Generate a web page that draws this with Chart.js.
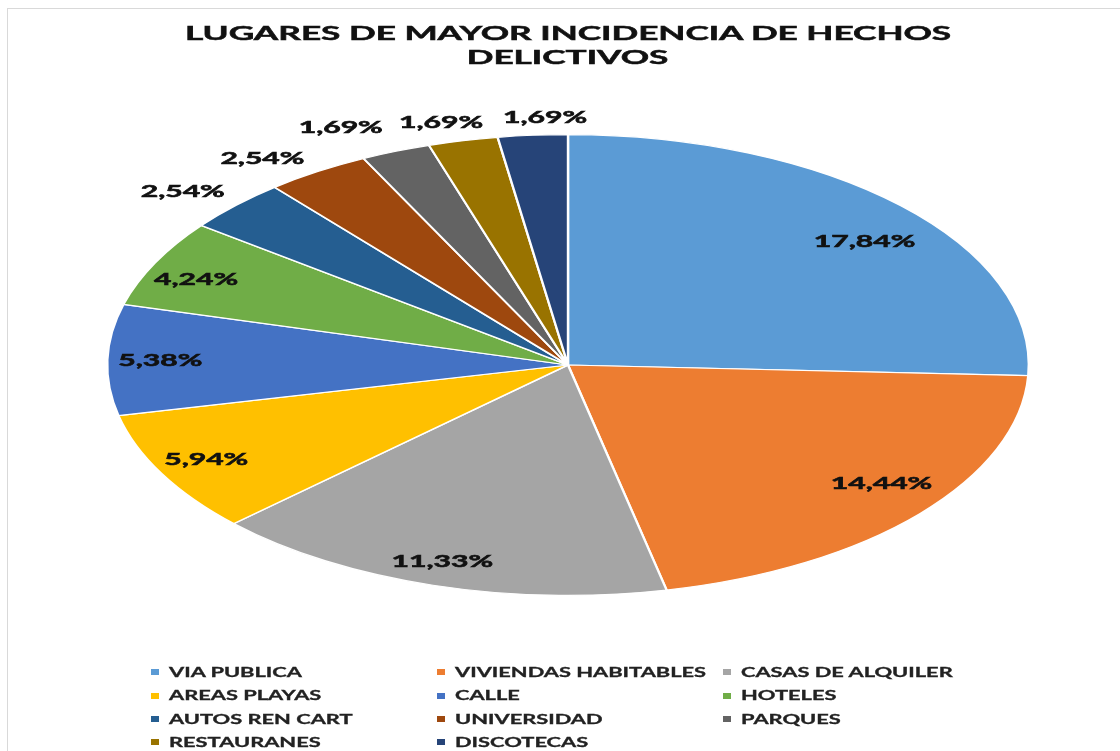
<!DOCTYPE html>
<html>
<head>
    <title>Lugares de mayor incidencia</title>
    <script src="https://cdn.jsdelivr.net/npm/chart.js"></script>
    <style>
        body { margin: 0; background: #fff; font-family: Lato, sans-serif; }
        #wrap { position: relative; width: 1120px; height: 751px; overflow: hidden; }
        #frame { position: absolute; left: 7px; top: 8px; right: -2px; bottom: -2px;
                 border-top: 1px solid #d9d9d9; border-left: 1px solid #d9d9d9; }
        canvas { position: absolute; left: 0; top: 0; }
        .title { position: absolute; left: 0; width: 1136px; text-align: center;
                 font: 700 19px Lato, sans-serif; line-height: 24px; color: #111;
                 -webkit-text-stroke: 0.5px #111; }
        .title span { display: inline-block; transform: scaleX(1.85); }
        #legend { position: absolute; left: 151px; top: 661px; display: grid;
                  grid-template-columns: repeat(3, 286px); grid-auto-rows: 23.4px; }
        .item { font: 700 13px Lato, sans-serif; color: #222; white-space: nowrap;
                line-height: 23.4px; -webkit-text-stroke: 0.3px #222; }
        .box { display: inline-block; width: 8px; height: 6px; vertical-align: middle;
               margin-top: -3px; }
        .lbl { display: inline-block; transform: scaleX(1.68); transform-origin: left center;
               margin-left: 10px; }
    </style>
</head>
<body>
<div id="wrap">
    <div id="frame"></div>
    <canvas id="pieChart" width="1120" height="751"></canvas>
    <div class="title" style="top:21px"><span>LUGARES DE MAYOR INCIDENCIA DE HECHOS</span></div>
    <div class="title" style="top:45px"><span>DELICTIVOS</span></div>
    <div id="legend"></div>
</div>

<script>
    var places = ["VIA PUBLICA", "VIVIENDAS HABITABLES", "CASAS DE ALQUILER", "AREAS PLAYAS",
                  "CALLE", "HOTELES", "AUTOS REN CART", "UNIVERSIDAD", "PARQUES",
                  "RESTAURANES", "DISCOTECAS"];
    var percents = [17.84, 14.44, 11.33, 5.94, 5.38, 4.24, 2.54, 2.54, 1.69, 1.69, 1.69];
    var colors = ["#5B9BD5", "#ED7D31", "#A5A5A5", "#FFC000", "#4472C4", "#70AD47",
                  "#255E91", "#9E480E", "#636363", "#997300", "#264478"];

    // where each label sits, as a fraction of the radius (x and y separately)
    var labelFx = [0.89, 0.89, 0.93, 0.89, 0.885, 0.90, 1.16, 1.22, 1.32, 1.21, 0.65];
    var labelFy = [0.78, 0.80, 0.89, 0.87, 0.85, 0.84, 1.09, 1.07, 1.11, 1.08, 1.08];

    var STRETCH = 2;      // the pie is drawn as a wide ellipse
    var TEXT_SCALE = 1.72; // labels are wide too

    // squash the pie horizontally around its centre
    var stretchPlugin = {
        id: "stretch",
        beforeDatasetsDraw: function (chart) {
            var arc = chart.getDatasetMeta(0).data[0];
            var ctx = chart.ctx;
            ctx.save();
            ctx.translate(arc.x, 0);
            ctx.scale(STRETCH, 1);
            ctx.translate(-arc.x, 0);
        },
        afterDatasetsDraw: function (chart) {
            chart.ctx.restore();
        }
    };

    var labelPlugin = {
        id: "pctLabels",
        afterDatasetsDraw: function (chart) {
            var ctx = chart.ctx;
            chart.getDatasetMeta(0).data.forEach(function (arc, i) {
                var mid = (arc.startAngle + arc.endAngle) / 2;
                var x = arc.x + Math.cos(mid) * arc.outerRadius * STRETCH * labelFx[i];
                var y = arc.y + Math.sin(mid) * arc.outerRadius * labelFy[i];
                var txt = percents[i].toFixed(2).replace(".", ",") + "%";
                ctx.save();
                ctx.translate(x, y);
                ctx.scale(TEXT_SCALE, 1);
                ctx.font = "700 17.5px Lato, sans-serif";
                ctx.fillStyle = "#111";
                ctx.strokeStyle = "#111";
                ctx.lineWidth = 0.6;
                ctx.textAlign = "center";
                ctx.textBaseline = "middle";
                ctx.fillText(txt, 0, 0);
                ctx.strokeText(txt, 0, 0);
                ctx.restore();
            });
        }
    };

    var ctx = document.getElementById("pieChart").getContext("2d");
    var chart = new Chart(ctx, {
        type: "pie",
        data: {
            labels: places,
            datasets: [{
                data: percents,
                backgroundColor: colors,
                borderColor: "#ffffff",
                borderWidth: 1.2
            }]
        },
        options: {
            responsive: false,
            animation: false,
            layout: { padding: { top: 134, bottom: 155, left: 328, right: 312 } },
            plugins: {
                legend: { display: false },
                tooltip: { enabled: false }
            }
        },
        plugins: [stretchPlugin, labelPlugin]
    });

    var legend = document.getElementById("legend");
    places.forEach(function (name, i) {
        var item = document.createElement("div");
        item.className = "item";
        item.innerHTML = '<span class="box" style="background:' + colors[i] + '"></span>' +
                         '<span class="lbl">' + name + '</span>';
        legend.appendChild(item);
    });
</script>
</body>
</html>
